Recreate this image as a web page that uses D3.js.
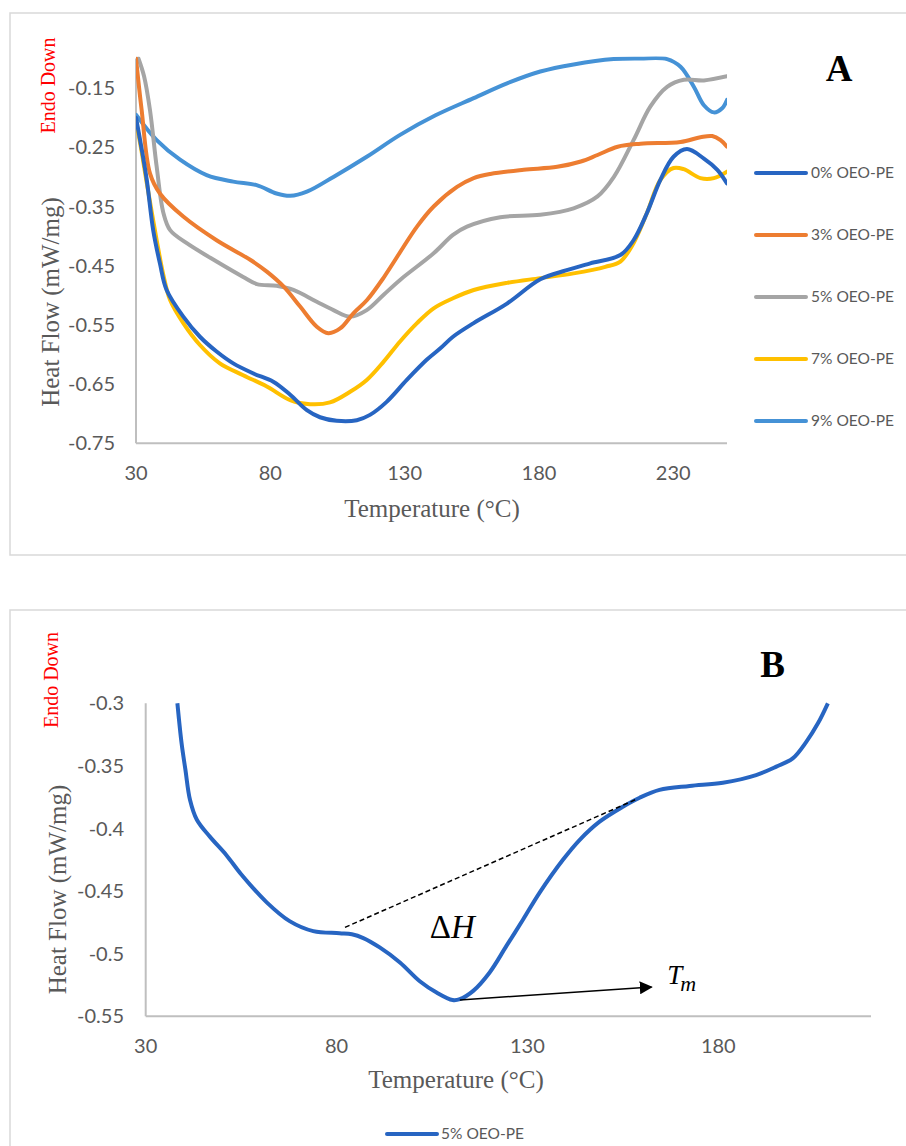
<!DOCTYPE html>
<html>
  <head>
    <meta charset="utf-8">
    <script src="https://d3js.org/d3.v7.min.js"></script>
    <style>
      html, body {
        margin: 0;
        padding: 0;
        background: #fff;
        overflow: hidden;
      }
      .tick-label {
        font-family: Lato, "Open Sans", sans-serif;
        font-size: 20px;
        fill: #595959;
      }
      .axis-title {
        font-family: "Liberation Serif", "Times New Roman", serif;
        font-size: 25px;
        fill: #595959;
      }
      .endo {
        font-family: "Liberation Serif", "Times New Roman", serif;
        font-size: 20px;
        fill: #ff0000;
      }
      .legend-label {
        font-family: Lato, "Open Sans", sans-serif;
        font-size: 15.5px;
        fill: #595959;
      }
      .panel-letter {
        font-family: "Liberation Serif", "Times New Roman", serif;
        font-weight: bold;
        font-size: 37px;
        fill: #000;
      }
      .math {
        font-family: "Liberation Serif", "DejaVu Serif", serif;
        fill: #000;
      }
    </style>
  </head>
  <body>
    <div id="chart"></div>
    <script>
      // ---- data: [temperature °C, heat flow mW/mg] ----
      const seriesNames = ["0% OEO-PE", "3% OEO-PE", "5% OEO-PE", "7% OEO-PE", "9% OEO-PE"];
      const seriesColors = ["#2765c2", "#ed7d31", "#a5a5a5", "#ffc000", "#4592d6"];

      const oeo0 = [[30,-0.200],[32,-0.250],[34,-0.305],[36.4,-0.390],[38.9,-0.446],[41.4,-0.491],[47.6,-0.536],
        [53.8,-0.570],[60,-0.595],[66.2,-0.615],[73.7,-0.632],[81.1,-0.646],[87.4,-0.668],[93.6,-0.694],
        [98.5,-0.706],[104.7,-0.712],[112.2,-0.711],[117.1,-0.702],[123.3,-0.680],[130.8,-0.643],
        [138.2,-0.609],[143.2,-0.590],[148,-0.570],[155.7,-0.547],[168.1,-0.514],[180.5,-0.473],
        [190,-0.458],[199.1,-0.446],[210.3,-0.432],[215.2,-0.407],[220.2,-0.361],[225.2,-0.305],
        [230.1,-0.266],[235.1,-0.253],[241.4,-0.269],[246.4,-0.288],[250,-0.311]];

      const oeo3 = [[30,-0.100],[32.1,-0.187],[35.2,-0.294],[38.9,-0.328],[47.6,-0.367],[60,-0.407],
        [72.5,-0.440],[78.7,-0.460],[84.9,-0.485],[91.1,-0.519],[97.3,-0.553],[101.6,-0.564],[106,-0.556],
        [111,-0.530],[116,-0.508],[122.2,-0.470],[134.6,-0.384],[140.8,-0.350],[149.5,-0.317],
        [155.7,-0.302],[161.9,-0.295],[174.3,-0.288],[186.8,-0.283],[195.6,-0.274],[201.8,-0.263],
        [209.3,-0.249],[217.8,-0.244],[232.7,-0.241],[240.1,-0.233],[244.5,-0.231],[247.6,-0.238],
        [250,-0.249]];

      const oeo5 = [[30.9,-0.100],[33,-0.130],[35.2,-0.187],[37.7,-0.283],[40.2,-0.361],[42.7,-0.390],
        [48.9,-0.412],[60,-0.443],[69.9,-0.469],[75,-0.481],[82.3,-0.484],[88.6,-0.491],[97.3,-0.511],
        [103.5,-0.525],[109.7,-0.536],[115.9,-0.525],[122.2,-0.499],[128.3,-0.474],[140.8,-0.429],
        [148,-0.398],[153.2,-0.384],[165.6,-0.368],[180.5,-0.364],[192.9,-0.353],[201.8,-0.333],
        [207.9,-0.300],[215.2,-0.238],[221.5,-0.181],[227.7,-0.148],[233.9,-0.136],[241.4,-0.137],
        [250,-0.130]];

      const oeo7 = [[30,-0.205],[32,-0.255],[34,-0.310],[37.7,-0.407],[40.2,-0.466],[42.7,-0.508],
        [47.6,-0.547],[53.8,-0.584],[61.2,-0.615],[69.9,-0.635],[78.7,-0.654],[87.4,-0.677],[94.8,-0.684],
        [102.2,-0.681],[109.7,-0.663],[115.9,-0.643],[122.2,-0.612],[128.3,-0.578],[134.6,-0.547],
        [140.8,-0.522],[148,-0.505],[155.7,-0.491],[168.1,-0.479],[180.5,-0.471],[192.9,-0.463],
        [204.7,-0.452],[210.3,-0.443],[215.2,-0.412],[220.2,-0.361],[225.2,-0.305],[230.1,-0.285],
        [233.9,-0.287],[240.1,-0.302],[245.1,-0.302],[250,-0.291]];

      const oeo9 = [[30,-0.195],[37.7,-0.238],[46.4,-0.271],[56.3,-0.297],[66.2,-0.308],[74.9,-0.314],
        [82.3,-0.328],[87.4,-0.332],[93.6,-0.325],[103.5,-0.300],[115.9,-0.266],[128.3,-0.229],
        [141.5,-0.196],[155.7,-0.167],[168.1,-0.142],[180.5,-0.122],[192.9,-0.110],[207.8,-0.101],
        [217.8,-0.100],[227.7,-0.101],[232.7,-0.114],[237.7,-0.148],[241.4,-0.179],[245.1,-0.191],
        [248.2,-0.184],[250,-0.170]];

      const seriesA = [oeo0, oeo3, oeo5, oeo7, oeo9];

      // panel B: 5% OEO-PE, single run
      const oeo5B = [[38.3,-0.300],[39.4,-0.332],[40.4,-0.353],[41.6,-0.377],[43.4,-0.393],[46.8,-0.4065],
        [51.2,-0.4215],[55,-0.4365],[61.7,-0.459],[67.7,-0.474],[73.9,-0.482],[80.8,-0.4836],
        [84,-0.4845],[87,-0.4875],[91.3,-0.495],[96.6,-0.507],[101.8,-0.522],[106.2,-0.531],[110.4,-0.537],
        [112.3,-0.5363],[115.8,-0.5297],[120.1,-0.515],[124.5,-0.4938],[128.9,-0.4725],[133.2,-0.4512],
        [139.3,-0.425],[143.7,-0.409],[148.9,-0.3945],[155,-0.3826],[159.4,-0.3754],[164.6,-0.3692],
        [172.5,-0.366],[181.2,-0.3634],[189.9,-0.3573],[195.2,-0.3506],[199.5,-0.3440],[203,-0.3310],
        [206.1,-0.316],[208.7,-0.300]];

      const xTicksA = [30, 80, 130, 180, 230];
      const yTicksA = [-0.15, -0.25, -0.35, -0.45, -0.55, -0.65, -0.75];
      const xTicksB = [30, 80, 130, 180];
      const yTicksB = [-0.3, -0.35, -0.4, -0.45, -0.5, -0.55];

      // annotation anchors in data units (panel B)
      const baselineStart = [82.2, -0.479], baselineEnd = [158.5, -0.3767];
      const peakPoint = [112.3, -0.537], tmArrowTip = [162.5, -0.5266];
      const deltaHPos = [104.4, -0.4871], tmPos = [166.6, -0.5243];

      const width = 906, height = 1146;
      const svg = d3.select("#chart").append("svg")
        .attr("width", width).attr("height", height);

      const defs = svg.append("defs");
      defs.append("marker")
        .attr("id", "arrow")
        .attr("viewBox", "0 0 10 10")
        .attr("refX", 9).attr("refY", 5)
        .attr("markerWidth", 13).attr("markerHeight", 13)
        .attr("markerUnits", "userSpaceOnUse")
        .attr("orient", "auto")
        .append("path").attr("d", "M0,0 L10,5 L0,10 Z").attr("fill", "#000");

      // panel frames
      svg.append("rect").attr("x", 10).attr("y", 13).attr("width", 910).attr("height", 542)
        .attr("fill", "none").attr("stroke", "#d9d9d9").attr("stroke-width", 1.5);
      svg.append("rect").attr("x", 10).attr("y", 610).attr("width", 910).attr("height", 560)
        .attr("fill", "none").attr("stroke", "#d9d9d9").attr("stroke-width", 1.5);

      function drawAxes(g, x, y, xTicks, yTicks, xLabelY, yLabelX) {
        const [x0, x1] = x.range();
        const [y0, y1] = y.range();
        g.append("line").attr("x1", x0).attr("x2", x0).attr("y1", y0).attr("y2", y1)
          .attr("stroke", "#bfbfbf").attr("stroke-width", 2);
        g.append("line").attr("x1", x0).attr("x2", x1).attr("y1", y0).attr("y2", y0)
          .attr("stroke", "#bfbfbf").attr("stroke-width", 2);
        g.selectAll(".ytick").data(yTicks).enter().append("text")
          .attr("class", "tick-label")
          .attr("x", yLabelX).attr("y", d => y(d))
          .attr("dy", "0.35em").attr("text-anchor", "end")
          .text(d => String(d));
        g.selectAll(".xtick").data(xTicks).enter().append("text")
          .attr("class", "tick-label")
          .attr("x", d => x(d)).attr("y", xLabelY)
          .attr("text-anchor", "middle")
          .text(d => String(d));
      }

      function clipFor(id, x, y) {
        defs.append("clipPath").attr("id", id).append("rect")
          .attr("x", x.range()[0]).attr("y", y.range()[1] - 2)
          .attr("width", x.range()[1] - x.range()[0])
          .attr("height", y.range()[0] - y.range()[1] + 2);
      }

      // ---------------- Panel A ----------------
      const xA = d3.scaleLinear().domain([30, 250]).range([136, 727]);
      const yA = d3.scaleLinear().domain([-0.75, -0.10]).range([443.3, 58.5]);
      const gA = svg.append("g");
      drawAxes(gA, xA, yA, xTicksA, yTicksA, 480, 115);
      clipFor("clipA", xA, yA);

      const lineA = d3.line().x(d => xA(d[0])).y(d => yA(d[1])).curve(d3.curveCatmullRom.alpha(0.5));
      const drawOrder = [4, 2, 1, 3, 0];
      gA.append("g").attr("clip-path", "url(#clipA)")
        .selectAll("path").data(drawOrder).enter().append("path")
        .attr("d", i => lineA(seriesA[i]))
        .attr("fill", "none")
        .attr("stroke", i => seriesColors[i])
        .attr("stroke-width", 4)
        .attr("stroke-linejoin", "round")
        .attr("stroke-linecap", "round");

      const legA = gA.append("g").selectAll("g").data(seriesNames).enter().append("g")
        .attr("transform", (d, i) => `translate(756,${173 + i * 62})`);
      legA.append("line").attr("x1", 0).attr("x2", 50)
        .attr("stroke", (d, i) => seriesColors[i]).attr("stroke-width", 4).attr("stroke-linecap", "round");
      legA.append("text").attr("class", "legend-label").attr("x", 55).attr("dy", "0.35em").text(d => d);

      gA.append("text").attr("class", "axis-title").attr("x", 432).attr("y", 517)
        .attr("text-anchor", "middle").text("Temperature (°C)");
      gA.append("text").attr("class", "axis-title").attr("text-anchor", "middle")
        .attr("transform", "translate(59,302) rotate(-90)").text("Heat Flow (mW/mg)");
      gA.append("text").attr("class", "endo").attr("text-anchor", "middle")
        .attr("transform", "translate(55,85.5) rotate(-90)").text("Endo Down");
      gA.append("text").attr("class", "panel-letter").attr("x", 839).attr("y", 81)
        .attr("text-anchor", "middle").text("A");

      // ---------------- Panel B ----------------
      const xB = d3.scaleLinear().domain([30, 220]).range([145.7, 871]);
      const yB = d3.scaleLinear().domain([-0.55, -0.30]).range([1016.3, 703.3]);
      const gB = svg.append("g");
      drawAxes(gB, xB, yB, xTicksB, yTicksB, 1053, 124);
      clipFor("clipB", xB, yB);

      const lineB = d3.line().x(d => xB(d[0])).y(d => yB(d[1])).curve(d3.curveCatmullRom.alpha(0.5));
      gB.append("path").attr("clip-path", "url(#clipB)")
        .attr("d", lineB(oeo5B))
        .attr("fill", "none").attr("stroke", seriesColors[0])
        .attr("stroke-width", 4).attr("stroke-linejoin", "round");

      // baseline for ΔH
      gB.append("line")
        .attr("x1", xB(baselineStart[0])).attr("y1", yB(baselineStart[1]))
        .attr("x2", xB(baselineEnd[0])).attr("y2", yB(baselineEnd[1]))
        .attr("stroke", "#000").attr("stroke-width", 1.5).attr("stroke-dasharray", "5,3");
      // Tm arrow
      gB.append("line")
        .attr("x1", xB(peakPoint[0])).attr("y1", yB(peakPoint[1]))
        .attr("x2", xB(tmArrowTip[0])).attr("y2", yB(tmArrowTip[1]))
        .attr("stroke", "#000").attr("stroke-width", 1.5).attr("marker-end", "url(#arrow)");

      const dh = gB.append("text").attr("class", "math").attr("font-size", 33)
        .attr("x", xB(deltaHPos[0])).attr("y", yB(deltaHPos[1]));
      dh.append("tspan").text("Δ");
      dh.append("tspan").attr("font-style", "italic").text("H");

      const tm = gB.append("text").attr("class", "math").attr("font-size", 27)
        .attr("x", xB(tmPos[0])).attr("y", yB(tmPos[1]));
      tm.append("tspan").attr("font-style", "italic").text("T");
      tm.append("tspan").attr("font-style", "italic").attr("font-size", 22).attr("dx", -2).attr("dy", 7).text("m");

      gB.append("text").attr("class", "axis-title").attr("x", 456).attr("y", 1088)
        .attr("text-anchor", "middle").text("Temperature (°C)");
      gB.append("text").attr("class", "axis-title").attr("text-anchor", "middle")
        .attr("transform", "translate(66,889.5) rotate(-90)").text("Heat Flow (mW/mg)");
      gB.append("text").attr("class", "endo").attr("text-anchor", "middle")
        .attr("transform", "translate(58,680) rotate(-90)").text("Endo Down");
      gB.append("text").attr("class", "panel-letter").attr("x", 772.5).attr("y", 677)
        .attr("text-anchor", "middle").text("B");

      const legB = gB.append("g").attr("transform", "translate(387,1134)");
      legB.append("line").attr("x1", 0).attr("x2", 50)
        .attr("stroke", seriesColors[0]).attr("stroke-width", 4).attr("stroke-linecap", "round");
      legB.append("text").attr("class", "legend-label").attr("x", 54).attr("dy", "0.35em").text("5% OEO-PE");
    </script>
  </body>
</html>
